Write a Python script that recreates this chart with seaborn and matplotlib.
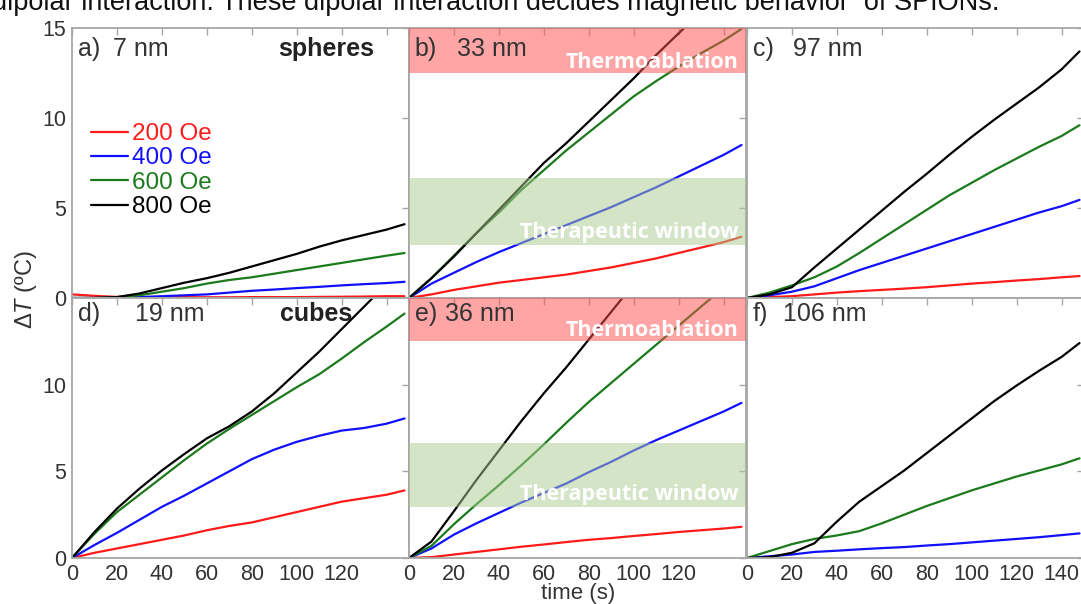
import pandas as pd
import seaborn as sns
import matplotlib.pyplot as plt

# Dades llegides de la figura (temps en s, increment de temperatura en ºC)
time_s = [0, 10, 20, 30, 40, 50, 60, 70, 80, 90, 100, 110, 120, 130, 140, 148]
fields = ["200 Oe", "400 Oe", "600 Oe", "800 Oe"]
colors = ["#ff1a1a", "#1010ff", "#1b7a1b", "#000000"]

# a) 7 nm esferes
a_200 = [0.2, 0.12, 0.06, 0.05, 0.05, 0.05, 0.04, 0.04, 0.05, 0.05, 0.05, 0.06, 0.07, 0.08, 0.1, 0.1]
a_400 = [0, 0, 0.02, 0.05, 0.1, 0.15, 0.2, 0.3, 0.4, 0.47, 0.55, 0.62, 0.7, 0.77, 0.83, 0.9]
a_600 = [0, 0, 0.05, 0.15, 0.35, 0.55, 0.8, 1.0, 1.15, 1.35, 1.55, 1.75, 1.95, 2.15, 2.35, 2.5]
a_800 = [0, 0, 0.05, 0.25, 0.55, 0.85, 1.1, 1.4, 1.75, 2.1, 2.45, 2.85, 3.2, 3.5, 3.8, 4.1]
# b) 33 nm
b_200 = [0, 0.2, 0.45, 0.65, 0.85, 1.0, 1.15, 1.3, 1.5, 1.7, 1.95, 2.2, 2.5, 2.8, 3.1, 3.4]
b_400 = [0, 0.8, 1.4, 2.0, 2.55, 3.05, 3.55, 4.05, 4.55, 5.05, 5.6, 6.15, 6.75, 7.35, 7.95, 8.5]
b_600 = [0, 1.1, 2.35, 3.6, 4.75, 6.0, 7.1, 8.2, 9.2, 10.2, 11.2, 12.05, 12.85, 13.6, 14.3, 14.95]
b_800 = [0, 1.1, 2.3, 3.6, 4.9, 6.2, 7.5, 8.6, 9.8, 11.0, 12.2, 13.5, 14.7, 15.9, 17.1, 18.1]
# c) 97 nm
c_200 = [0, 0.05, 0.1, 0.2, 0.3, 0.38, 0.45, 0.52, 0.6, 0.7, 0.8, 0.88, 0.97, 1.05, 1.15, 1.22]
c_400 = [0, 0.15, 0.35, 0.65, 1.1, 1.55, 1.95, 2.35, 2.75, 3.15, 3.55, 3.95, 4.35, 4.75, 5.1, 5.45]
c_600 = [0, 0.3, 0.7, 1.15, 1.75, 2.5, 3.3, 4.1, 4.9, 5.7, 6.4, 7.1, 7.75, 8.4, 9.0, 9.6]
c_800 = [0, 0.2, 0.6, 1.7, 2.75, 3.8, 4.85, 5.9, 6.9, 7.95, 8.95, 9.9, 10.8, 11.7, 12.7, 13.7]
# d) 19 nm cubs
d_200 = [0, 0.3, 0.55, 0.8, 1.05, 1.3, 1.6, 1.85, 2.05, 2.35, 2.65, 2.95, 3.25, 3.45, 3.65, 3.9]
d_400 = [0, 0.75, 1.45, 2.2, 2.95, 3.6, 4.3, 5.0, 5.7, 6.25, 6.7, 7.05, 7.35, 7.5, 7.75, 8.05]
d_600 = [0, 1.4, 2.65, 3.65, 4.65, 5.65, 6.6, 7.45, 8.25, 9.05, 9.85, 10.6, 11.5, 12.45, 13.35, 14.1]
d_800 = [0, 1.5, 2.85, 4.0, 5.05, 6.0, 6.9, 7.6, 8.45, 9.5, 10.7, 11.9, 13.2, 14.5, 15.8, 16.8]
# e) 36 nm
e_200 = [0, 0.05, 0.2, 0.35, 0.5, 0.65, 0.78, 0.92, 1.05, 1.15, 1.27, 1.38, 1.5, 1.6, 1.7, 1.8]
e_400 = [0, 0.55, 1.35, 2.0, 2.6, 3.2, 3.75, 4.3, 4.95, 5.55, 6.2, 6.8, 7.35, 7.9, 8.45, 8.95]
e_600 = [0, 0.7, 1.95, 3.1, 4.2, 5.35, 6.55, 7.8, 9.0, 10.1, 11.2, 12.3, 13.4, 14.5, 15.6, 16.5]
e_800 = [0, 0.95, 2.7, 4.5, 6.2, 7.9, 9.5, 11.0, 12.6, 14.2, 15.8, 17.3, 18.8, 20.3, 21.8, 23.0]
# f) 106 nm
f_200 = [0, -0.05, -0.08, -0.06, -0.08, -0.1, -0.1, -0.12, -0.12, -0.12, -0.12, -0.12, -0.12, -0.12, -0.12, -0.12]
f_400 = [0, 0.1, 0.2, 0.35, 0.42, 0.5, 0.57, 0.63, 0.72, 0.8, 0.9, 1.0, 1.1, 1.2, 1.32, 1.42]
f_600 = [0, 0.4, 0.8, 1.1, 1.3, 1.55, 2.0, 2.5, 3.0, 3.45, 3.9, 4.3, 4.7, 5.05, 5.4, 5.75]
f_800 = [0, 0.05, 0.3, 0.85, 2.1, 3.25, 4.15, 5.05, 6.05, 7.05, 8.05, 9.05, 9.95, 10.8, 11.6, 12.4]

panels = [
    ("a)", "7 nm", "spheres", [a_200, a_400, a_600, a_800]),
    ("b)", "33 nm", None, [b_200, b_400, b_600, b_800]),
    ("c)", "97 nm", None, [c_200, c_400, c_600, c_800]),
    ("d)", "19 nm", "cubes", [d_200, d_400, d_600, d_800]),
    ("e)", "36 nm", None, [e_200, e_400, e_600, e_800]),
    ("f)", "106 nm", None, [f_200, f_400, f_600, f_800]),
]
# posicio x (en s) del text de mida
size_x = [18.2, 21.2, 20.4, 28.0, 16.0, 16.0]
bands_in = ["b)", "e)"]

sns.set_style("white")
plt.rcParams["font.family"] = ["Liberation Sans", "DejaVu Sans"]
plt.rcParams["mathtext.fontset"] = "custom"
plt.rcParams["mathtext.it"] = "Liberation Sans:italic"
plt.rcParams["mathtext.rm"] = "Liberation Sans"

W, H = 1081, 604
fig = plt.figure(figsize=(W / 100, H / 100), dpi=100)

lefts = [72, 409, 747]
rows = [(28, 298), (298, 558)]
spine_col = "#a6a6a6"
txt_col = "#333333"

for i, (lab, size, shape, series) in enumerate(panels):
    r, c = divmod(i, 3)
    top, bot = rows[r]
    ax = fig.add_axes([lefts[c] / W, 1 - bot / H, 337 / W, (bot - top) / H])

    df = pd.DataFrame({
        "time": time_s * 4,
        "dT": sum(series, []),
        "field": [f for f in fields for _ in time_s],
    })
    sns.lineplot(data=df, x="time", y="dT", hue="field", palette=colors,
                 ax=ax, linewidth=1.6, legend=(i == 0))

    ax.set_xlim(0, 150)
    ax.set_ylim(0, 15)
    ax.set_xlabel("")
    ax.set_ylabel("")

    xt = [0, 20, 40, 60, 80, 100, 120, 140]
    ax.set_xticks(xt)
    if r == 1:
        if c < 2:
            ax.set_xticklabels([str(v) for v in xt[:-1]] + [""])
        else:
            ax.set_xticklabels([str(v) for v in xt])
    else:
        ax.set_xticklabels([])
    if r == 0:
        ax.set_yticks([0, 5, 10, 15])
    else:
        ax.set_yticks([0, 5, 10])
    if c > 0:
        ax.set_yticklabels([])

    ax.tick_params(direction="in", top=True, right=True, length=5, width=1,
                   color=spine_col, labelsize=15.5, labelcolor=txt_col, pad=4)
    for s in ax.spines.values():
        s.set_color(spine_col)
        s.set_linewidth(1.3)

    if lab in bands_in:
        ax.axhspan(12.5, 15, color="#ff4d4d", alpha=0.5, lw=0, zorder=5)
        ax.axhspan(2.95, 6.65, color="#abcd91", alpha=0.5, lw=0, zorder=5)
        ax.text(146.5, 13.1, "Thermoablation", color="white", fontsize=15.5,
                fontweight="bold", family="Open Sans", ha="right", va="center", zorder=6)
        ax.text(146.5, 3.65, "Therapeutic window", color="white", fontsize=15.5,
                fontweight="bold", family="Open Sans", ha="right", va="center", zorder=6)

    ybase = 13.45 if r == 0 else 13.7
    ax.text(2.5, ybase, lab, fontsize=18, color=txt_col, va="baseline", zorder=7)
    ax.text(size_x[i], ybase, size, fontsize=18, color=txt_col, va="baseline", zorder=7)
    if shape:
        ax.text(134.7 if r == 0 else 124.8, ybase, shape, fontsize=18, fontweight="bold",
                color="#222222", ha="right", va="baseline", zorder=7)

    if i == 0:
        ax.legend(loc="upper left", bbox_to_anchor=(0.055, 0.648), frameon=False,
                  labelcolor="linecolor", fontsize=17.5, handlelength=1.55,
                  handletextpad=0.15, labelspacing=0.1, borderpad=0, borderaxespad=0)

fig.text(0.024, 1 - 290 / H, r"$\mathit{\Delta T}$ (ºC)", rotation=90,
         ha="center", va="center", fontsize=17, color=txt_col)
fig.text(578 / W, 1 - 593 / H, "time (s)", ha="center", va="center",
         fontsize=16, color=txt_col)
fig.text(-0.007, 1 - 10 / H,
         "dipolar interaction. These dipolar interaction decides magnetic behavior  of SPIONs.",
         ha="left", va="baseline", fontsize=19.5, color="#111111")

plt.savefig("out.png", dpi=100)
